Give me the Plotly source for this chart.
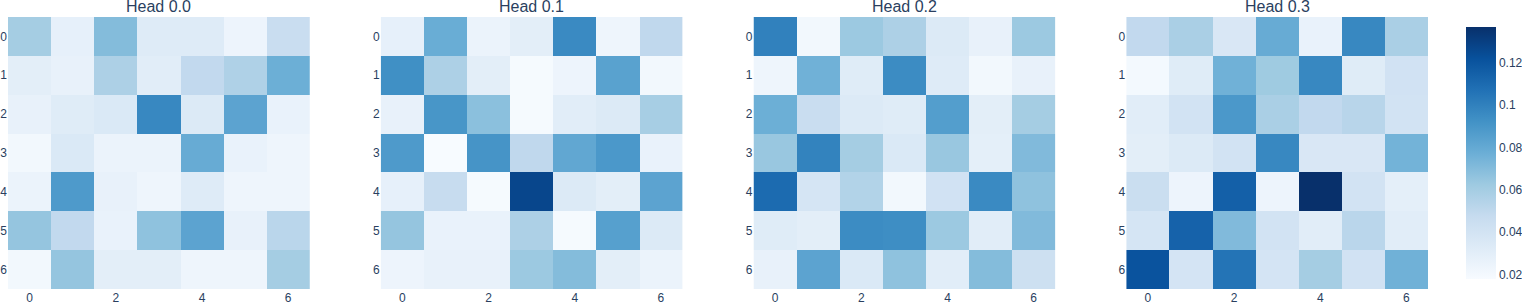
import plotly.graph_objects as go
from plotly.subplots import make_subplots

titles = ["Head 0.0", "Head 0.1", "Head 0.2", "Head 0.3"]
positions = list(range(7))

head_0 = [
    [0.060, 0.028, 0.070, 0.033, 0.033, 0.024, 0.046],
    [0.030, 0.027, 0.057, 0.031, 0.049, 0.056, 0.077],
    [0.027, 0.032, 0.035, 0.097, 0.034, 0.083, 0.026],
    [0.021, 0.035, 0.025, 0.025, 0.079, 0.026, 0.023],
    [0.025, 0.088, 0.027, 0.023, 0.033, 0.023, 0.023],
    [0.065, 0.049, 0.026, 0.067, 0.083, 0.027, 0.052],
    [0.021, 0.065, 0.030, 0.030, 0.023, 0.023, 0.060],
]
head_1 = [
    [0.028, 0.078, 0.025, 0.030, 0.096, 0.023, 0.050],
    [0.093, 0.057, 0.030, 0.019, 0.024, 0.084, 0.021],
    [0.027, 0.090, 0.068, 0.019, 0.031, 0.034, 0.059],
    [0.088, 0.0178, 0.091, 0.050, 0.081, 0.089, 0.026],
    [0.028, 0.047, 0.019, 0.127, 0.034, 0.030, 0.083],
    [0.065, 0.026, 0.026, 0.057, 0.019, 0.085, 0.034],
    [0.024, 0.027, 0.027, 0.063, 0.070, 0.030, 0.025],
]
head_2 = [
    [0.100, 0.021, 0.063, 0.057, 0.034, 0.027, 0.063],
    [0.023, 0.076, 0.032, 0.095, 0.033, 0.021, 0.027],
    [0.077, 0.046, 0.034, 0.032, 0.086, 0.030, 0.060],
    [0.064, 0.099, 0.060, 0.035, 0.064, 0.029, 0.071],
    [0.110, 0.038, 0.055, 0.021, 0.041, 0.096, 0.067],
    [0.032, 0.030, 0.095, 0.094, 0.063, 0.031, 0.071],
    [0.027, 0.083, 0.035, 0.067, 0.031, 0.070, 0.043],
]
head_3 = [
    [0.049, 0.058, 0.036, 0.079, 0.026, 0.097, 0.058],
    [0.020, 0.032, 0.076, 0.062, 0.097, 0.032, 0.041],
    [0.031, 0.040, 0.089, 0.058, 0.049, 0.053, 0.040],
    [0.030, 0.034, 0.040, 0.097, 0.036, 0.036, 0.075],
    [0.045, 0.024, 0.115, 0.024, 0.137, 0.040, 0.029],
    [0.038, 0.114, 0.071, 0.040, 0.031, 0.052, 0.031],
    [0.121, 0.039, 0.106, 0.039, 0.060, 0.041, 0.076],
]
heads = [head_0, head_1, head_2, head_3]

fig = make_subplots(rows=1, cols=4, subplot_titles=titles, horizontal_spacing=0.05)

for i, z in enumerate(heads):
    fig.add_trace(
        go.Heatmap(z=z, x=positions, y=positions, coloraxis="coloraxis"),
        row=1, col=i + 1,
    )
    fig.update_yaxes(autorange="reversed", dtick=1, showgrid=False, zeroline=False,
                     ticks="", row=1, col=i + 1)
    fig.update_xaxes(showgrid=False, zeroline=False, row=1, col=i + 1)

fig.update_layout(
    template="plotly_white",
    width=1522,
    height=304,
    margin=dict(l=8, r=94, t=17, b=15, autoexpand=False),
    coloraxis=dict(colorscale="Blues"),
    font=dict(family="Liberation Sans, Arial, sans-serif"),
)
fig.update_annotations(font_size=16)

fig.write_html(
    "out.html",
    config={"displayModeBar": False},
    post_script="document.body.style.margin='0';",
)
